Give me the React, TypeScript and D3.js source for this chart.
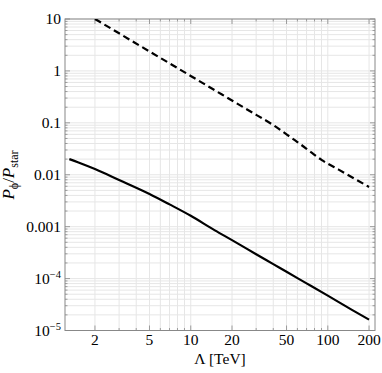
import React from 'react';
import * as d3 from 'd3';

// Lambda [TeV] and P_phi/P_star
const lambdaSolid = [1.3, 1.5, 2, 3, 5, 7, 10, 15, 20, 30, 40, 50, 70, 100, 150, 200];
const ratioSolid = [0.02, 0.0174, 0.01285, 0.00794, 0.00427, 0.00269, 0.00162, 8.5e-4, 5.5e-4, 2.95e-4, 1.9e-4, 1.35e-4, 8.1e-5, 4.7e-5, 2.5e-5, 1.62e-5];
const lambdaDashed = [2, 3, 5, 7, 10, 15, 20, 30, 40, 50, 60, 70, 90, 120, 150, 200];
const ratioDashed = [10, 5.3, 2.37, 1.4, 0.8, 0.423, 0.269, 0.1426, 0.0906, 0.06, 0.0427, 0.0316, 0.0193, 0.01253, 0.00897, 0.00582];

const xTicks = [2, 5, 10, 20, 50, 100, 200];
const yTicks = [10, 1, 0.1, 0.01, 0.001, 1e-4, 1e-5];
const yTickLabels = ['10', '1', '0.1', '0.01', '0.001', '10^-4', '10^-5'];

const W = 382;
const H = 373;
const left = 65;
const right = 375;
const top = 19;
const bottom = 330.5;
const font = "'Liberation Serif', 'DejaVu Serif', serif";

const x = d3.scaleLog().domain([1.209, 221]).range([left, right]);
const y = d3.scaleLog().domain([1e-5, 10]).range([bottom, top]);

// every integer multiple inside each decade
const minorX: number[] = [];
for (let d = 1; d <= 100; d *= 10) for (let k = 1; k <= 9; k++) {
  const v = k * d;
  if (v >= 1.209 && v <= 221) minorX.push(v);
}
const minorY: number[] = [];
for (let e = -5; e <= 0; e++) for (let k = 1; k <= 9; k++) minorY.push(k * Math.pow(10, e));
minorY.push(10);

const line = d3.line<[number, number]>()
  .x(d => x(d[0]))
  .y(d => y(d[1]))
  .curve(d3.curveMonotoneX);

const solid = line(lambdaSolid.map((l, i) => [l, ratioSolid[i]]));
const dashed = line(lambdaDashed.map((l, i) => [l, ratioDashed[i]]));

const isMajor = (v: number, list: number[]) => list.some(t => Math.abs(t - v) / t < 1e-6);

export default function App() {
  return (
    <svg width={W} height={H} style={{ position: 'absolute', left: 0, top: 0, background: '#fff', fontFamily: font }}>
      <defs>
        <clipPath id="plot">
          <rect x={left} y={top} width={right - left} height={bottom - top} />
        </clipPath>
      </defs>
      <rect width={W} height={H} fill="#fff" />

      {/* grid */}
      <g stroke="#e6e6e6" strokeWidth={1}>
        {minorX.map(v => (
          <line key={'gx' + v} x1={x(v)} x2={x(v)} y1={top} y2={bottom} />
        ))}
        {minorY.map(v => (
          <line key={'gy' + v} x1={left} x2={right} y1={y(v)} y2={y(v)} />
        ))}
      </g>

      {/* frame ticks */}
      <g stroke="#888" strokeWidth={0.8}>
        {minorX.map(v => {
          const len = isMajor(v, xTicks) ? 5 : 2.5;
          return (
            <g key={'tx' + v}>
              <line x1={x(v)} x2={x(v)} y1={bottom} y2={bottom - len} />
              <line x1={x(v)} x2={x(v)} y1={top} y2={top + len} />
            </g>
          );
        })}
        {minorY.map(v => {
          const len = isMajor(v, yTicks) ? 5 : 2.5;
          return (
            <g key={'ty' + v}>
              <line x1={left} x2={left + len} y1={y(v)} y2={y(v)} />
              <line x1={right} x2={right - len} y1={y(v)} y2={y(v)} />
            </g>
          );
        })}
      </g>
      <rect x={left} y={top} width={right - left} height={bottom - top} fill="none" stroke="#888" strokeWidth={1} />

      {/* curves */}
      <g clipPath="url(#plot)" fill="none" stroke="#000" strokeWidth={2.2}>
        <path d={solid ?? ''} />
        <path d={dashed ?? ''} strokeDasharray="7,4" />
      </g>

      {/* tick labels */}
      <g fontSize={15.5} fill="#000" style={{ fontFamily: font }}>
        {xTicks.map(v => (
          <text key={'lx' + v} x={x(v)} y={345} textAnchor="middle">{v}</text>
        ))}
        {yTicks.map((v, i) => {
          const lab = yTickLabels[i];
          const sup = lab.indexOf('^');
          return (
            <text key={'ly' + v} x={61} y={y(v) + 5} textAnchor="end">
              {sup < 0 ? lab : (
                <>
                  {lab.slice(0, sup)}
                  <tspan dy={-6} fontSize={10.5}>{'\u2212' + lab.slice(sup + 2)}</tspan>
                </>
              )}
            </text>
          );
        })}
      </g>

      {/* axis labels */}
      <g fontSize={15.5} style={{ fontFamily: font }}>
        <text x={(left + right) / 2} y={364} textAnchor="middle">Λ [TeV]</text>
        <text transform="translate(14,175) rotate(-90)" textAnchor="middle" fontSize={17}>
          <tspan fontStyle="italic">P</tspan>
          <tspan dy={4} fontSize={12}>ϕ</tspan>
          <tspan dy={-4}>/</tspan>
          <tspan fontStyle="italic">P</tspan>
          <tspan dy={4} fontSize={12}>star</tspan>
        </text>
      </g>
    </svg>
  );
}
